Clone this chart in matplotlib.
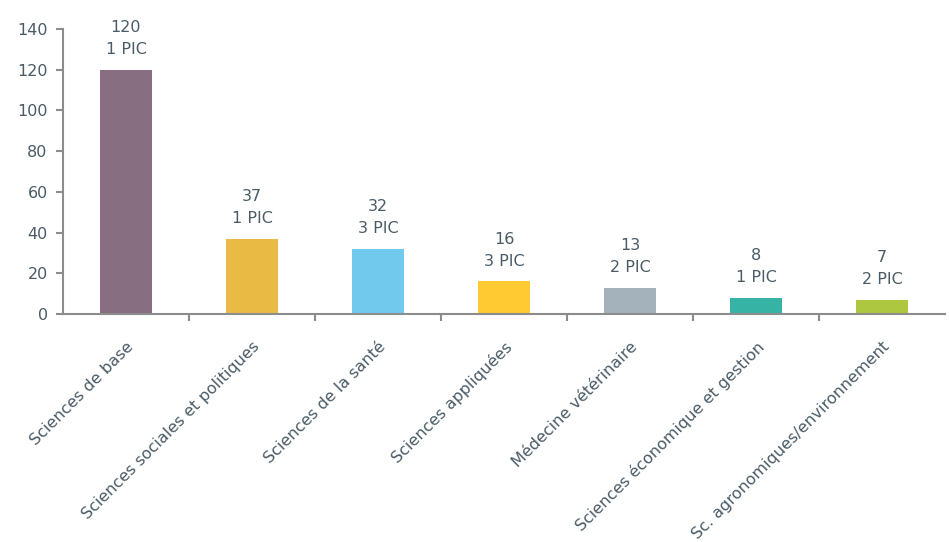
import numpy as np
import matplotlib.pyplot as plt

# Number of projects per discipline, with the PIC count shown above each bar
categories = [
    "Sciences de base",
    "Sciences sociales et politiques",
    "Sciences de la santé",
    "Sciences appliquées",
    "Médecine vétérinaire",
    "Sciences économique et gestion",
    "Sc. agronomiques/environnement",
]
values = [120, 37, 32, 16, 13, 8, 7]
pic_counts = [1, 1, 3, 3, 2, 1, 2]
colors = ["#876e81", "#e9bb45", "#72c9ee", "#ffca32", "#a3b2bb", "#37b3a5", "#adc840"]

text_color = "#4a5b66"
axis_color = "#8c8c8c"

plt.rcParams["font.family"] = ["DejaVu Sans"]

fig = plt.figure(figsize=(9.49, 5.42), dpi=100)
ax = fig.add_axes([63 / 949, 1 - 314 / 542, (945 - 63) / 949, (314 - 29) / 542])

x = np.arange(len(categories))
ax.bar(x, values, width=0.41, color=colors, zorder=2)

for xi, v, p in zip(x, values, pic_counts):
    ax.annotate(f"{v}\n{p} PIC", (xi, v), xytext=(0, 9), textcoords="offset points",
                ha="center", va="bottom", fontsize=11.5, color=text_color,
                linespacing=1.6)

ax.set_xlim(-0.5, len(categories) - 0.5)
ax.set_ylim(0, 140)
ax.set_yticks(np.arange(0, 141, 20))

# category labels sit at bar centres, tick marks between categories
ax.set_xticks(x)
ax.set_xticklabels(categories, rotation=45, ha="right", rotation_mode="anchor",
                   fontsize=11.5, color=text_color)
ax.tick_params(axis="x", length=0, pad=18)
ax.set_xticks(np.arange(0.5, len(categories) - 0.5), minor=True)
ax.tick_params(axis="x", which="minor", length=5, width=1.5, color=axis_color)

ax.tick_params(axis="y", length=5, width=1.5, color=axis_color, labelsize=11.5,
               labelcolor=text_color, pad=6)

for side in ["top", "right"]:
    ax.spines[side].set_visible(False)
for side in ["left", "bottom"]:
    ax.spines[side].set_color(axis_color)
    ax.spines[side].set_linewidth(1.5)

fig.savefig("out.png", dpi=100)
